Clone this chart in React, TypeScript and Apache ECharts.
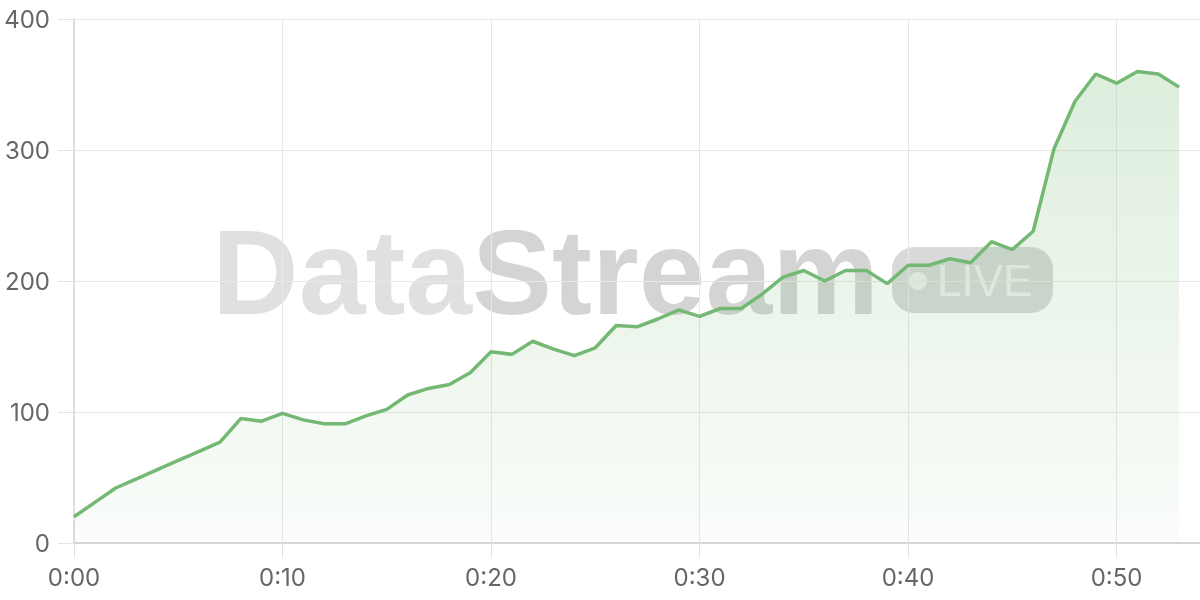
import React, { useEffect, useRef } from "react";
import * as echarts from "echarts";

const minuteLabels: string[] = ["0:00", "0:10", "0:20", "0:30", "0:40", "0:50"];
const values: number[] = [
  20, 31, 42, 49, 56, 63, 70, 77, 95, 93,
  99, 94, 91, 91, 97, 102, 113, 118, 121, 130,
  146, 144, 154, 148, 143, 149, 166, 165, 171, 178,
  173, 179, 179, 190, 203, 208, 200, 208, 208, 198,
  212, 212, 217, 214, 230, 224, 238, 301, 337, 358,
  351, 360, 358, 348,
];
const yTicks: number[] = [0, 100, 200, 300, 400];

export default function App() {
  const ref = useRef<HTMLDivElement>(null);
  useEffect(() => {
    if (!ref.current) return;
    const chart = echarts.init(ref.current, null, { renderer: "svg" });
    const points = values.map((v, i) => [i, v]);
    chart.setOption({
      animation: false,
      grid: { left: 74, right: 0, top: 19, bottom: 57 },
      xAxis: {
        type: "value",
        min: 0,
        max: 54,
        interval: 10,
        axisLine: { show: true, lineStyle: { color: "#cccccc", width: 1.5 } },
        axisTick: { show: true, length: 15, lineStyle: { color: "#e3e3e3" } },
        splitLine: { show: true, lineStyle: { color: "#e8e8e8", width: 1 } },
        axisLabel: {
          showMaxLabel: false,
          margin: 22,
          color: "#666666",
          fontSize: 24,
          fontFamily: "Inter",
          formatter: (v: number) => (v % 10 === 0 ? minuteLabels[v / 10] ?? "" : ""),
        },
      },
      yAxis: {
        type: "value",
        min: yTicks[0],
        max: yTicks[yTicks.length - 1],
        interval: 100,
        axisLine: { show: true, lineStyle: { color: "#d6d6d6", width: 1.5 } },
        axisTick: { show: true, length: 16, lineStyle: { color: "#e3e3e3" } },
        splitLine: { show: true, lineStyle: { color: "#e8e8e8", width: 1 } },
        axisLabel: {
          margin: 24,
          color: "#666666",
          fontSize: 24,
          fontFamily: "Inter",
        },
      },
      graphic: [
        {
          type: "text",
          z: -1,
          x: 212,
          y: 272,
          style: {
            text: "Data",
            font: "bold 120px 'Liberation Sans'",
            verticalAlign: "middle",
            fill: "rgba(0,0,0,0.12)",
          },
        },
        {
          type: "text",
          z: -1,
          x: 472,
          y: 272,
          style: {
            text: "Stream",
            font: "bold 120px 'Liberation Sans'",
            verticalAlign: "middle",
            fill: "rgba(0,0,0,0.17)",
          },
        },
        {
          type: "rect",
          z: -1,
          shape: { x: 892, y: 247, width: 161, height: 66, r: 22 },
          style: { fill: "rgba(0,0,0,0.15)" },
        },
        {
          type: "circle",
          z: -1,
          shape: { cx: 918, cy: 281, r: 9 },
          style: { fill: "rgba(255,255,255,0.6)" },
        },
        {
          type: "text",
          z: -1,
          x: 937,
          y: 280,
          style: {
            text: "LIVE",
            font: "44px 'Liberation Sans'",
            verticalAlign: "middle",
            fill: "rgba(255,255,255,0.6)",
          },
        },
      ],
      series: [
        {
          type: "line",
          data: points,
          symbol: "none",
          lineStyle: { color: "#74b973", width: 3.5 },
          itemStyle: { color: "#74b973" },
          areaStyle: {
            color: new echarts.graphic.LinearGradient(0, 0, 0, 1, [
              { offset: 0, color: "rgba(116,185,115,0.35)" },
              { offset: 1, color: "rgba(116,185,115,0.05)" },
            ]),
          },
        },
      ],
    });
    return () => chart.dispose();
  }, []);
  return (
    <div
      ref={ref}
      style={{ position: "fixed", left: 0, top: 0, width: 1200, height: 600 }}
    />
  );
}
